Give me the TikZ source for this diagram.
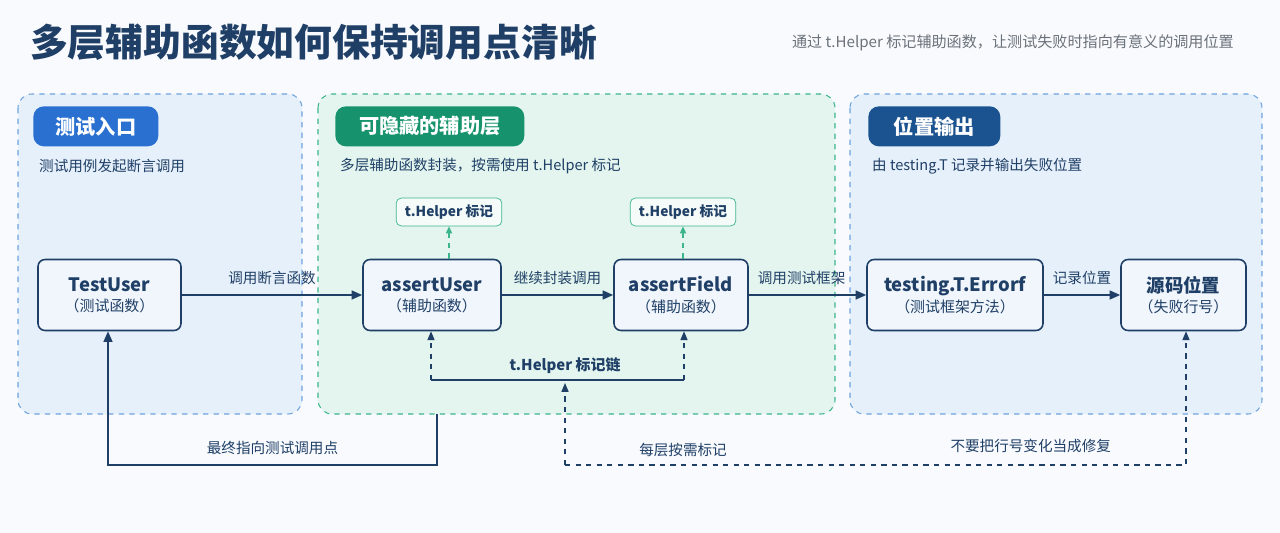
\documentclass[tikz,border=0pt]{standalone}
\usepackage{fontspec}
\setmainfont{Noto Sans CJK SC}
\usetikzlibrary{arrows.meta,positioning}
\definecolor{navy}{HTML}{1F3F66}
\definecolor{panelblue}{HTML}{E6F0FB}
\definecolor{panelgreen}{HTML}{E3F5EE}
\definecolor{linegreen}{HTML}{3DB58C}
\definecolor{lineblue}{HTML}{6FA3DD}
\definecolor{badgeblue}{HTML}{2A70D0}
\definecolor{badgegreen}{HTML}{16936D}
\definecolor{badgenavy}{HTML}{1B5290}
\definecolor{boxfill}{HTML}{F1F6FC}
\begin{document}
\begin{tikzpicture}[x=0.02cm,y=-0.02cm,
    panel/.style   ={draw, dashed, rounded corners=8pt, line width=0.6pt},
    badge/.style   ={rounded corners=6pt, text=white, font=\bfseries\fontsize{11.5}{13}\selectfont, minimum height=0.8cm, inner xsep=8pt},
    func/.style    ={draw=navy, fill=boxfill, line width=0.9pt, rounded corners=4pt, minimum height=1.42cm, align=center, text=navy, font=\fontsize{8.5}{11.5}\selectfont},
    helpermark/.style ={draw=linegreen, fill=white!60!panelgreen, rounded corners=3pt, minimum height=0.56cm, text=navy, font=\bfseries\fontsize{7.8}{9}\selectfont, inner xsep=5pt},
    note/.style    ={text=navy, font=\fontsize{8.3}{10}\selectfont},
    flow/.style    ={draw=navy, line width=1pt, -{Triangle[length=6pt,width=5pt]}},
    chain/.style   ={draw=navy, dashed, line width=0.7pt, -{Triangle[length=5pt,width=4pt]}}]
   \useasboundingbox[fill=white!50!boxfill] (0,0) rectangle (1280,533);
   % title
   \node[anchor=west, text=navy, font=\bfseries\fontsize{21.5}{24}\selectfont] (title) at (24,42) {多层辅助函数如何保持调用点清晰};
   \node[anchor=east, text=gray!80!navy, font=\fontsize{8.6}{10}\selectfont] (subtitle) at (1240,43) {通过 t.Helper 标记辅助函数，让测试失败时指向有意义的调用位置};
   % panels
   \draw[panel, draw=lineblue, fill=panelblue] (18,94) rectangle (302,414);
   \draw[panel, draw=linegreen, fill=panelgreen] (318,94) rectangle (835,414);
   \draw[panel, draw=lineblue, fill=panelblue] (850,94) rectangle (1262,414);
   \node[badge, fill=badgeblue, anchor=north west, minimum width=2.5cm] (entry) at (33,106) {测试入口};
   \node[badge, fill=badgegreen, anchor=north west, minimum width=3.78cm] (layer) at (335,106) {可隐藏的辅助层};
   \node[badge, fill=badgenavy, anchor=north west, minimum width=2.64cm] (output) at (868,106) {位置输出};
   \node[note, anchor=west] (entrytxt) at (33,166) {测试用例发起断言调用};
   \node[note, anchor=west] (layertxt) at (334,166) {多层辅助函数封装，按需使用 t.Helper 标记};
   \node[note, anchor=west] (outputtxt) at (866,166) {由 testing.T 记录并输出失败位置};
   % functions
   \node[func, minimum width=2.86cm] (test) at (109.5,295) {{\bfseries\fontsize{10.5}{12}\selectfont TestUser}\\（测试函数）};
   \node[func, minimum width=2.76cm] (auser) at (432,295) {{\bfseries\fontsize{10.5}{12}\selectfont assertUser}\\（辅助函数）};
   \node[func, minimum width=2.68cm] (afield) at (681,295) {{\bfseries\fontsize{10.5}{12}\selectfont assertField}\\（辅助函数）};
   \node[func, minimum width=3.52cm] (errorf) at (955,295) {{\bfseries\fontsize{10.5}{12}\selectfont testing.T.Errorf}\\（测试框架方法）};
   \node[func, minimum width=2.5cm] (source) at (1183.5,295) {{\bfseries\fontsize{10.5}{12}\selectfont 源码位置}\\（失败行号）};
   \node[helpermark] (mark1) at (449,212) {t.Helper 标记};
   \node[helpermark] (mark2) at (683,212) {t.Helper 标记};
   % main calls
   \draw[flow] (test) -- node[note, above=2pt] {调用断言函数} (auser);
   \draw[flow] (auser) -- node[note, above=2pt] {继续封装调用} (afield);
   \draw[flow] (afield) -- node[note, above=2pt, pos=0.45] {调用测试框架} (errorf);
   \draw[flow] (errorf) -- node[note, above=2pt] {记录位置} (source);
   \draw[draw=linegreen, dashed, line width=0.7pt, -{Triangle[length=4pt,width=3.5pt]}] (auser.north -| mark1) -- (mark1);
   \draw[draw=linegreen, dashed, line width=0.7pt, -{Triangle[length=4pt,width=3.5pt]}] (afield.north -| mark2) -- (mark2);
   % helper chain
   \coordinate (chainL) at (431,380);
   \coordinate (chainR) at (684,380);
   \coordinate (chainM) at (565,383);
   \draw[chain] (chainR) -- (chainL) -- (auser.south -| chainL);
   \draw[chain] (chainL) -- (chainR) -- (afield.south -| chainR);
   \node[text=navy, font=\bfseries\fontsize{8.5}{10}\selectfont] (chainlbl) at (565,366) {t.Helper 标记链};
   \coordinate (markB) at (565,465);
   \coordinate (markC) at (1186,465);
   \draw[chain] (markB) -- (chainM);
   \draw[chain] (markB) -- node[note, above=1pt, pos=0.19] {每层按需标记} node[note, above=3pt, pos=0.75] {不要把行号变化当成修复} (markC) -- (source.south -| markC);
   % back to caller
   \coordinate (backA) at (437,414);
   \coordinate (backB) at (437,465);
   \coordinate (backC) at (108,465);
   \draw[flow] (backA) -- (backB) -- node[note, above=2pt] {最终指向测试调用点} (backC) -- (test.south -| backC);
\end{tikzpicture}
\end{document}
